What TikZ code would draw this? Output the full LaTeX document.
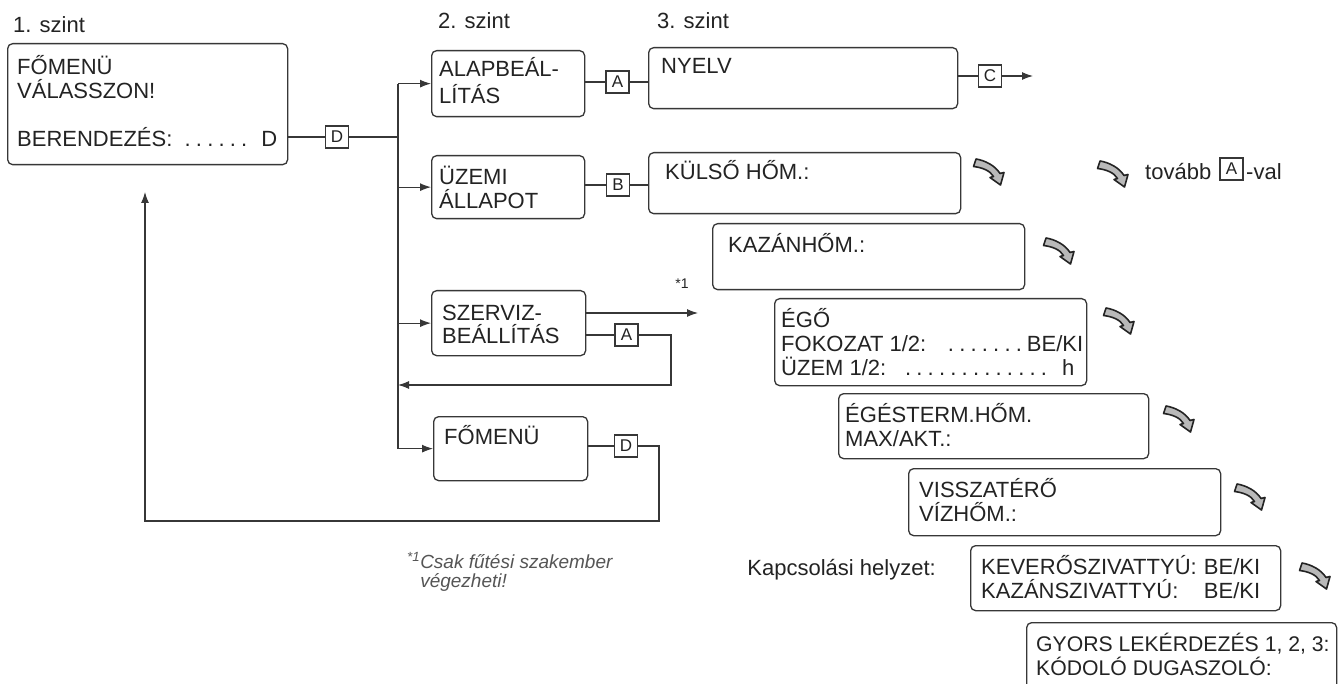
\documentclass[tikz,border=0pt]{standalone}
\usepackage{fontspec}
\setmainfont{Liberation Sans}
\usetikzlibrary{arrows.meta}
\definecolor{ink}{RGB}{35,35,35}
\definecolor{linec}{RGB}{55,55,55}
\definecolor{notec}{RGB}{85,85,85}
\newcommand\mydot{.\hspace{5.2pt}}
\begin{document}
\begin{tikzpicture}[x=1pt,y=-1pt,
  box/.style={draw=linec, line width=1.3pt, rounded corners=5pt, inner sep=0pt, anchor=north west},
  txt/.style={text=ink, font=\fontsize{22}{24}\selectfont, inner sep=0pt, anchor=base west, align=left},
  key/.style={draw=linec, line width=1.1pt, minimum width=23pt, minimum height=22pt, inner sep=0pt, text=ink, font=\fontsize{17}{17}\selectfont},
  conn/.style={draw=linec, line width=1.1pt},
  arr/.style={conn, -{Latex[length=11pt,width=8pt]}},
  curvarrow/.pic={\path[draw=ink, fill=gray!55, line width=1.6pt, line join=round]
     (3,1) .. controls (12,2.5) and (22,7.5) .. (27,15.5) -- (31,14.5) -- (27.5,27)
     -- (17,19.5) -- (20.5,18.5) .. controls (17,12.5) and (9,9.5) .. (0.5,8.5) -- cycle;}
]
\useasboundingbox (0,0) rectangle (1343,684);
\fill[white] (0,0) rectangle (1343,684);

% level labels (multi-line nodes: anchor is the last baseline)
\node[txt] (l1) at (13,33) {1. szint};
\node[txt] (l2) at (438,29) {2. szint};
\node[txt] (l3) at (657,29) {3. szint};

% boxes
\node[box, minimum width=280pt, minimum height=121pt] (box1) at (7,43) {};
\node[box, minimum width=153pt, minimum height=66pt] (alap) at (431,50) {};
\node[box, minimum width=153pt, minimum height=63pt] (uzemi) at (431,155) {};
\node[box, minimum width=154pt, minimum height=65pt] (szerviz) at (431,290) {};
\node[box, minimum width=154pt, minimum height=64pt] (fomenu2) at (433,416) {};
\node[box, minimum width=309pt, minimum height=61pt] (nyelv) at (648,47) {};
\node[box, minimum width=312pt, minimum height=61pt] (kulso) at (648,152) {};
\node[box, minimum width=312pt, minimum height=66pt] (kazan) at (712,223) {};
\node[box, minimum width=312pt, minimum height=87pt] (ego) at (774,298) {};
\node[box, minimum width=310pt, minimum height=65pt] (egest) at (838,393) {};
\node[box, minimum width=312pt, minimum height=67pt] (vissza) at (908,468) {};
\node[box, minimum width=310pt, minimum height=65pt] (kever) at (970,545) {};
\begin{scope}
\clip (0,0) rectangle (1343,684);
\node[box, minimum width=310pt, minimum height=90pt] (gyors) at (1026,622) {};
\end{scope}

% box texts
\node[txt] (box1t) at (17,147) {FŐMENÜ\\VÁLASSZON!\\[24pt]\makebox[260pt][l]{BERENDEZÉS:\hfill\mydot\mydot\mydot\mydot\mydot.\hspace{14pt}D}};
\node[txt] (alapt) at (439,104) {ALAPBEÁL-\\[3pt]LÍTÁS};
\node[txt] (uzemit) at (439,209) {ÜZEMI\\ÁLLAPOT};
\node[txt] (szervizt) at (442,344) {SZERVIZ-\\BEÁLLÍTÁS};
\node[txt] (fomenu2t) at (444,444) {FŐMENÜ};
\node[txt] (nyelvt) at (661,74) {NYELV};
\node[txt] (kulsot) at (665,180) {KÜLSŐ HŐM.:};
\node[txt] (kazant) at (728,253) {KAZÁNHŐM.:};
\node[txt] (egot) at (781,375) {ÉGŐ\\\makebox[302pt][l]{FOKOZAT 1/2:\hfill\mydot\mydot\mydot\mydot\mydot\mydot.\hspace{5pt}BE/KI}\\\makebox[293pt][l]{ÜZEM 1/2:\hfill\mydot\mydot\mydot\mydot\mydot\mydot\mydot\mydot\mydot\mydot\mydot\mydot.\hspace{15pt}h}};
\node[txt] (egestt) at (845,446) {ÉGÉSTERM.HŐM.\\MAX/AKT.:};
\node[txt] (visszat) at (919,521) {VISSZATÉRŐ\\VÍZHŐM.:};
\node[txt] (kevert) at (981,598) {\makebox[279pt][l]{KEVERŐSZIVATTYÚ:\hfill BE/KI}\\\makebox[279pt][l]{KAZÁNSZIVATTYÚ:\hfill BE/KI}};
\node[txt, font=\fontsize{21.2}{24}\selectfont] (gyorst) at (1036,675) {GYORS LEKÉRDEZÉS 1, 2, 3:\\KÓDOLÓ DUGASZOLÓ:};
\node[txt, anchor=base east] (kapcs) at (936,575) {Kapcsolási helyzet:};

% key boxes
\node[key] (D1) at (337,137) {D};
\node[key] (aA) at (617.5,82) {A};
\node[key] (bB) at (618,185) {B};
\node[key] (C) at (990,76) {C};
\node[key] (sA) at (626.5,335) {A};
\node[key] (fD2) at (626,446) {D};

% helper coordinates
\coordinate (trunk) at (398,0);
\coordinate (cEnd) at (1033,76);
\coordinate (star) at (698,313);
\coordinate (ret1) at (671,385);
\coordinate (ret2a) at (659,521);
\coordinate (ret2b) at (145,521);
\coordinate (ret2c) at (145,192);

% connectors
\draw[conn] (D1 -| box1.east) -- (D1.west);
\draw[conn] (D1.east) -- (trunk |- D1);
\draw[conn] (trunk |- alap.west) -- (trunk |- fomenu2.west);
\draw[arr] (trunk |- alap.west) -- (alap.west);
\draw[arr] (trunk |- uzemi.west) -- (uzemi.west);
\draw[arr] (trunk |- szerviz.west) -- (szerviz.west);
\draw[arr] (trunk |- fomenu2.west) -- (fomenu2.west);
\draw[conn] (aA -| alap.east) -- (aA.west);
\draw[conn] (aA.east) -- (aA -| nyelv.west);
\draw[conn] (bB -| uzemi.east) -- (bB.west);
\draw[conn] (bB.east) -- (bB -| kulso.west);
\draw[conn] (C -| nyelv.east) -- (C.west);
\draw[arr] (C.east) -- (cEnd);
\draw[arr] (star -| szerviz.east) -- (star);
\draw[conn] (sA -| szerviz.east) -- (sA.west);
\draw[arr] (sA.east) -| (ret1) -- (trunk |- ret1);
\draw[conn] (fD2 -| fomenu2.east) -- (fD2.west);
\draw[arr] (fD2.east) -| (ret2a) -- (ret2b) -- (ret2c);

\node[text=ink, font=\fontsize{14}{14}\selectfont, inner sep=0pt] (starlbl) at (682,284) {*1};

% curved arrows
\pic at (973,158) {curvarrow};
\pic at (1097,160) {curvarrow};
\pic at (1043,237) {curvarrow};
\pic at (1103,307) {curvarrow};
\pic at (1163,405) {curvarrow};
\pic at (1234,483) {curvarrow};
\pic at (1299,562) {curvarrow};

% tovabb A-val
\node[txt] (tov) at (1145,180) {tovább};
\node[key] (tovA) at (1231.5,169) {A};
\node[txt] (val) at (1246,180) {-val};

% footnote
\node[txt, text=notec, font=\fontsize{19}{19.5}\selectfont\itshape] (foot) at (407,587.5) {\textsuperscript{*1}Csak fűtési szakember\\\hphantom{\textsuperscript{*1}}végezheti!};
\end{tikzpicture}
\end{document}
